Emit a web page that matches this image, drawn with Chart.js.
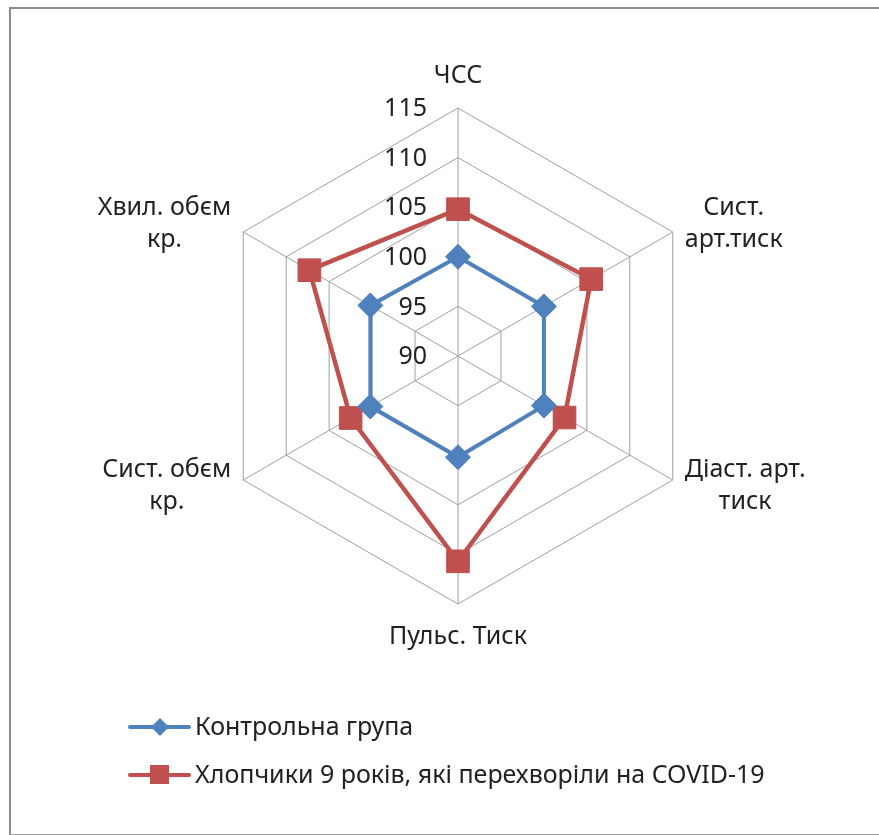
<!DOCTYPE html>
<html>
<head>
<meta charset="utf-8">
<script src="https://cdn.jsdelivr.net/npm/chart.js@4/dist/chart.umd.min.js"></script>
<style>
  html, body { margin: 0; padding: 0; background: #fff; }
  #wrap { position: relative; width: 879px; height: 835px; overflow: hidden; }
  #frame {
    position: absolute; left: 9px; top: 7px; width: 900px; height: 825px;
    border-left: 2px solid #8c8c8c; border-top: 2px solid #8c8c8c; border-bottom: 1px solid #a0a0a0;
  }
  canvas { position: absolute; left: 0; top: 0; }
</style>
</head>
<body>
<div id="wrap">
  <div id="frame"></div>
  <canvas id="radarChart" width="879" height="835"></canvas>
</div>
<script>
// Осі (кожна мітка — масив рядків)
const labels = [
  ["ЧСС"],
  ["Сист.", "арт.тиск"],
  ["Діаст. арт.", "тиск"],
  ["Пульс. Тиск"],
  ["Сист. обєм", "кр."],
  ["Хвил. обєм", "кр."]
];

// Значення серій
const controlValues = [100, 100, 100, 100.2, 100.2, 100.2];
const covidValues = [104.8, 105.5, 102.4, 110.7, 102.5, 107.3];

const seriesNames = ["Контрольна група", "Хлопчики 9 років, які перехворіли на COVID-19"];

// Шкала
const scaleMin = 90;
const scaleMax = 115;
const scaleStep = 5;

const blue = "#4f81bd";
const red = "#c0504d";
const textColor = "#222222";
const fontFamily = "'Noto Sans', 'Open Sans', sans-serif";
const fontSize = 25;

// Малюємо підписи осей, значення шкали і легенду
const excelLabels = {
  id: "excelLabels",
  afterDraw(chart) {
    const ctx = chart.ctx;
    const scale = chart.scales.r;
    ctx.save();
    ctx.fillStyle = textColor;
    ctx.font = fontSize + "px " + fontFamily;

    // значення шкали ліворуч від вертикальної осі
    ctx.textAlign = "right";
    ctx.textBaseline = "middle";
    scale.ticks.forEach((t) => {
      const d = scale.getDistanceFromCenterForValue(t.value);
      ctx.fillText(String(t.value), scale.xCenter - 31, scale.yCenter - d + 1);
    });

    // підписи осей
    const lineH = 32;
    ctx.textAlign = "center";
    labels.forEach((lines, i) => {
      const p = scale.getPointPosition(i, scale.drawingArea);
      const w = Math.max(...lines.map((l) => ctx.measureText(l).width));
      const dx = p.x - scale.xCenter;
      const dy = p.y - scale.yCenter;
      let cx = p.x, cy = p.y;
      if (Math.abs(dx) < 1) {
        cy = p.y + (dy < 0 ? -32 : 33);
      } else {
        cx = p.x + (dx > 0 ? 12 + w / 2 : -12 - w / 2);
        cy = p.y + (dy < 0 ? -8 : 6);
      }
      const top = cy - (lines.length * lineH) / 2 + lineH / 2;
      lines.forEach((l, k) => ctx.fillText(l, cx, top + k * lineH));
    });

    // легенда
    const legendY = [727, 775];
    const colors = [blue, red];
    ctx.textAlign = "left";
    seriesNames.forEach((name, i) => {
      const y = legendY[i];
      ctx.strokeStyle = colors[i];
      ctx.fillStyle = colors[i];
      ctx.lineWidth = 4;
      ctx.lineCap = "round";
      ctx.beginPath();
      ctx.moveTo(130, y);
      ctx.lineTo(189, y);
      ctx.stroke();
      ctx.beginPath();
      if (i === 0) {
        ctx.moveTo(160, y - 9);
        ctx.lineTo(169, y);
        ctx.lineTo(160, y + 9);
        ctx.lineTo(151, y);
      } else {
        ctx.rect(150, y - 10, 19, 19);
      }
      ctx.closePath();
      ctx.fill();
      ctx.fillStyle = textColor;
      ctx.fillText(name, 195, y + 1);
    });
    ctx.restore();
  }
};

const ctx = document.getElementById("radarChart").getContext("2d");

new Chart(ctx, {
  type: "radar",
  data: {
    labels: labels,
    datasets: [
      {
        label: seriesNames[0],
        data: controlValues,
        borderColor: blue,
        backgroundColor: blue,
        borderWidth: 4,
        fill: false,
        pointStyle: "rectRot",
        pointRadius: 12.5,
        pointBorderWidth: 1,
        pointBackgroundColor: blue,
        pointBorderColor: blue
      },
      {
        label: seriesNames[1],
        data: covidValues,
        borderColor: red,
        backgroundColor: red,
        borderWidth: 4.5,
        fill: false,
        pointStyle: "rect",
        pointRadius: 16,
        pointBorderWidth: 1,
        pointBackgroundColor: red,
        pointBorderColor: red
      }
    ]
  },
  options: {
    responsive: false,
    animation: false,
    layout: {
      padding: { left: 210, top: 108, right: 173, bottom: 231 }
    },
    scales: {
      r: {
        min: scaleMin,
        max: scaleMax,
        ticks: { stepSize: scaleStep, display: false },
        pointLabels: { display: false },
        grid: { color: "#9f9f9f", lineWidth: 1, circular: false },
        angleLines: { color: "#9f9f9f", lineWidth: 1 }
      }
    },
    plugins: {
      legend: { display: false },
      tooltip: { enabled: false }
    }
  },
  plugins: [excelLabels]
});
</script>
</body>
</html>
